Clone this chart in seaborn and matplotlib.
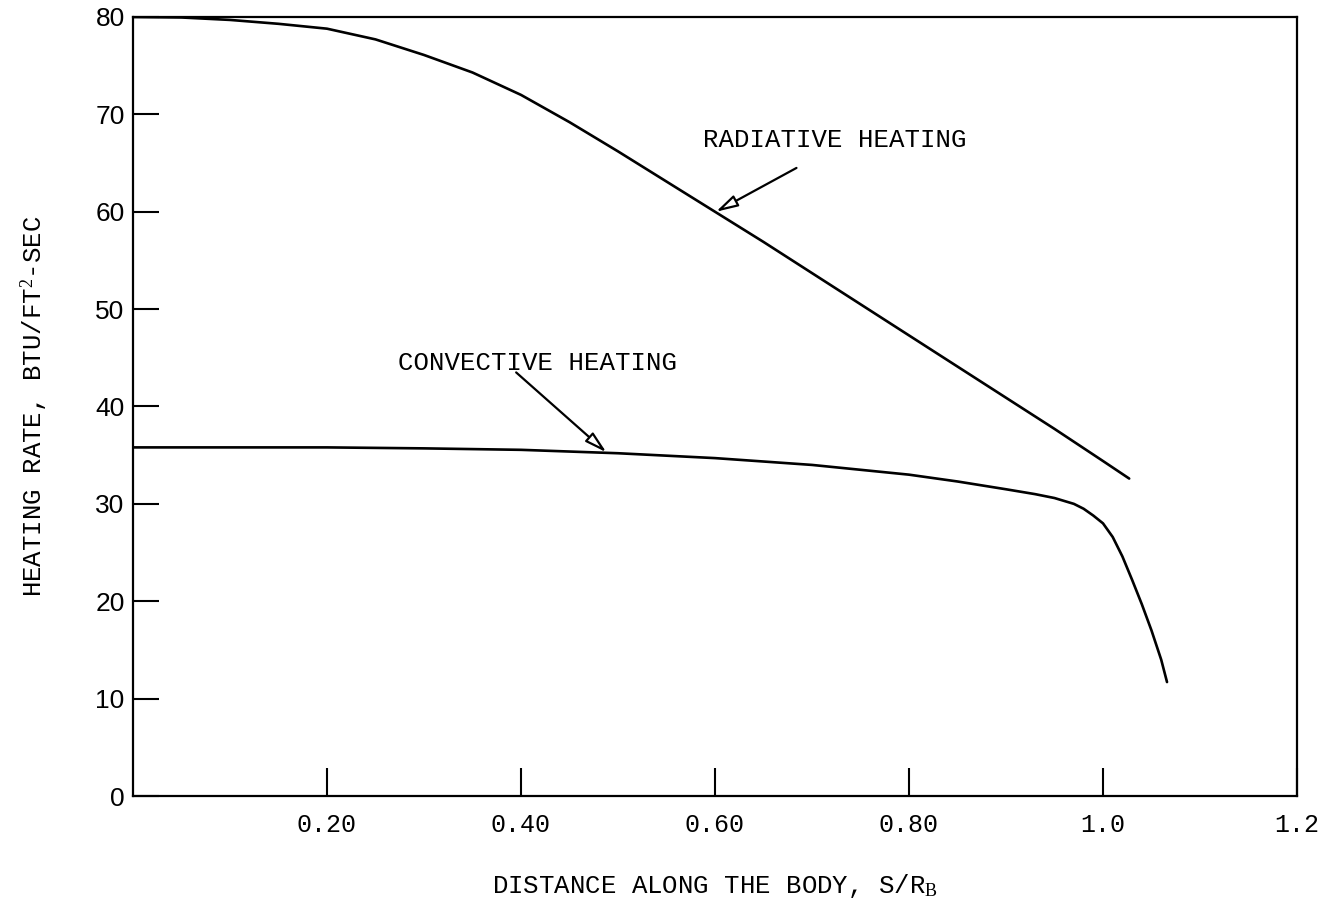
import numpy as np
import pandas as pd
import matplotlib
matplotlib.use("Agg")
import matplotlib.pyplot as plt
import seaborn as sns

# ---- data ----
rad_x = [0.0, 0.05, 0.10, 0.15, 0.20, 0.25, 0.30, 0.35, 0.40, 0.45, 0.50, 0.55, 0.60,
         0.65, 0.70, 0.75, 0.80, 0.85, 0.90, 0.95, 1.00, 1.027]
rad_y = [80.0, 79.95, 79.7, 79.3, 78.8, 77.7, 76.1, 74.3, 72.0, 69.2, 66.2, 63.1, 60.0,
         56.9, 53.7, 50.5, 47.3, 44.1, 40.9, 37.7, 34.4, 32.6]

conv_x = [0.0, 0.10, 0.20, 0.30, 0.40, 0.50, 0.60, 0.70, 0.80, 0.85, 0.90, 0.93, 0.95,
          0.97, 0.98, 0.99, 1.00, 1.01, 1.02, 1.03, 1.04, 1.05, 1.06, 1.066]
conv_y = [35.8, 35.8, 35.8, 35.7, 35.55, 35.2, 34.7, 34.0, 33.0, 32.3, 31.5, 31.0, 30.6,
          30.0, 29.5, 28.8, 28.0, 26.6, 24.6, 22.2, 19.7, 17.0, 14.0, 11.7]

xticks = [0.2, 0.4, 0.6, 0.8, 1.0, 1.2]
xtick_labels = ["0.20", "0.40", "0.60", "0.80", "1.0", "1.2"]
yticks = [0, 10, 20, 30, 40, 50, 60, 70, 80]

df = pd.concat([
    pd.DataFrame({"s": rad_x, "q": rad_y, "series": "RADIATIVE HEATING"}),
    pd.DataFrame({"s": conv_x, "q": conv_y, "series": "CONVECTIVE HEATING"}),
])

sns.set_theme(style="ticks")
plt.rcParams["font.family"] = ["Liberation Mono", "DejaVu Sans"]
plt.rcParams["mathtext.fontset"] = "custom"
plt.rcParams["mathtext.rm"] = "Liberation Serif"
plt.rcParams["mathtext.it"] = "Liberation Serif"
plt.rcParams["lines.solid_joinstyle"] = "round"
plt.rcParams["lines.solid_capstyle"] = "round"

fig = plt.figure(figsize=(13.31, 9.05), dpi=100)
ax = fig.add_axes([133 / 1331, 1 - 796 / 905, (1297 - 133) / 1331, (796 - 17) / 905])

sns.lineplot(data=df, x="s", y="q", hue="series", palette=["black", "black"],
             linewidth=1.9, legend=False, sort=False, estimator=None, ax=ax)

ax.set_xlim(0.0, 1.2)
ax.set_ylim(0, 80)
ax.set_xticks(xticks)
ax.set_xticklabels(xtick_labels)
ax.set_yticks(yticks)
ax.set_yticklabels([str(v) for v in yticks], family="Liberation Sans")

for sp in ax.spines.values():
    sp.set_visible(True)
    sp.set_linewidth(1.6)
    sp.set_color("black")

ax.tick_params(axis="x", direction="in", length=20, width=1.5, pad=12,
               labelsize=18, colors="black")
ax.tick_params(axis="y", direction="in", length=19, width=1.5, pad=6,
               labelsize=19, colors="black")

ax.set_xlabel("DISTANCE ALONG THE BODY, S/R$_{\\mathrm{B}}$", fontsize=18.5, color="black")
ax.set_ylabel("HEATING RATE, BTU/FT$^{2}$-SEC", fontsize=18.5, color="black")
ax.xaxis.set_label_coords(0.5, -0.097)
ax.yaxis.set_label_coords(-0.071, 0.5)

arrow = dict(arrowstyle="-|>,head_length=1.1,head_width=0.3", fc="white", ec="black",
             lw=1.6, shrinkA=0, shrinkB=0)
ax.text(0.588, 67.4, "RADIATIVE HEATING", fontsize=18.5, ha="left", va="center", color="black")
ax.annotate("", xy=(0.601, 60.0), xytext=(0.684, 64.5), arrowprops=arrow)
ax.text(0.273, 44.5, "CONVECTIVE HEATING", fontsize=18.5, ha="left", va="center", color="black")
ax.annotate("", xy=(0.488, 35.3), xytext=(0.395, 43.5), arrowprops=arrow)

fig.savefig("out.png", dpi=100, facecolor="white")
